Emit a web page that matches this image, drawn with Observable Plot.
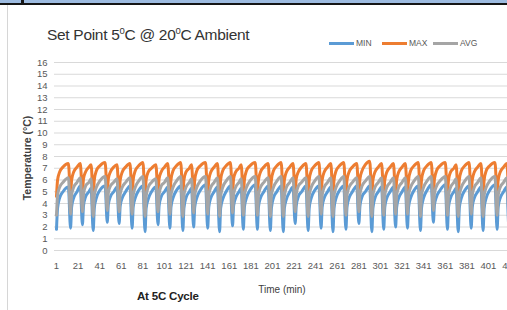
<!DOCTYPE html>
<html><head><meta charset="utf-8">
<script src="https://cdn.jsdelivr.net/npm/d3@7"></script>
<script src="https://cdn.jsdelivr.net/npm/@observablehq/plot@0.6"></script>
<style>
html,body{margin:0;padding:0;background:#fff;overflow:hidden}
#wrap{position:relative;width:507px;height:310px;overflow:hidden;font-family:"Liberation Sans",sans-serif;color:#404040}
.abs{position:absolute;white-space:nowrap}
.seg{position:absolute;height:3px}
.leg{position:absolute;font-size:8.5px;line-height:10px;color:#595959;font-family:"Liberation Sans",sans-serif}
#chart svg{max-width:none !important}
</style></head><body>
<div id="wrap">
  <div id="chart" class="abs" style="left:0;top:0;width:560px"></div>
  <div class="abs" style="left:0;top:0;width:507px;height:3px;background:#9dbbe0"></div>
  <div class="abs" style="left:0;top:3px;width:507px;height:2px;background:#151515"></div>
  <div class="abs" style="left:21px;top:0;width:2.5px;height:5px;background:#151515"></div>
  <div class="abs" style="left:7px;top:5px;width:1px;height:305px;background:#d6d6d6"></div>
  <div id="title" class="abs" style="left:47px;top:23px;font-size:15.5px;line-height:16px;letter-spacing:-0.3px;color:#333"></div>
  <div id="ytitle" class="abs" style="left:-43px;top:152px;width:140px;text-align:center;font-size:10.5px;line-height:12px;font-weight:bold;color:#404040;transform:rotate(-90deg)"></div>
  <div id="xtitle" class="abs" style="left:232px;top:284px;width:100px;text-align:center;font-size:10px;line-height:12px;color:#404040"></div>
  <div id="note" class="abs" style="left:137px;top:289px;font-size:11.5px;line-height:14px;font-weight:bold;color:#222;letter-spacing:-0.2px"></div>
  <div id="legend"></div>
</div>
<script>
// ---- data ----
const titleParts = ["Set Point 5", "0", "C @ 20", "0", "C Ambient"];
const yTitle = "Temperature (°C)";
const xTitle = "Time (min)";
const note = "At 5C Cycle";
const seriesNames = ["MIN", "MAX", "AVG"];
const seriesColors = ["#5B9BD5", "#ED7D31", "#A5A5A5"];
const yTicks = [0,1,2,3,4,5,6,7,8,9,10,11,12,13,14,15,16];
const xTicks = [1,21,41,61,81,101,121,141,161,181,201,221,241,261,281,301,321,341,361,381,401,421];

const time = [
1,2,4,7,12, 14,15,17,20,23, 25,26,28,31,33, 35,36,38,41,46,
48,49,51,54,57, 59,60,62,65,69, 71,72,74,77,81, 83,84,86,89,93,
95,96,98,101,104, 106,107,109,112,116, 118,119,121,124,126, 128,129,131,134,139,
141,142,144,147,150, 152,153,155,158,162, 164,165,167,170,172, 174,175,177,180,185,
187,188,190,193,197, 199,200,202,205,209, 211,212,214,217,220, 222,223,225,228,232,
234,235,237,240,244, 246,247,249,252,255, 257,258,260,263,267, 269,270,272,275,279,
281,282,284,287,291, 293,294,296,299,302, 304,305,307,310,313, 315,316,318,321,324,
326,327,329,332,336, 338,339,341,344,348, 350,351,353,356,361, 363,364,366,369,371,
373,374,376,379,383, 385,386,388,391,394, 396,397,399,402,407, 409,410,412,415,418,
420,421,423,426,430
];
const minV = [
1.8,3.6,4.5,5.0,5.4, 1.9,3.7,4.5,5.0,5.5, 2.2,3.8,4.6,5.0,5.3, 1.7,3.6,4.5,5.1,5.5,
2.4,3.9,4.6,5.0,5.4, 2.3,3.8,4.5,5.0,5.5, 1.9,3.7,4.5,5.1,5.5, 1.6,3.6,4.4,5.0,5.4,
2.2,3.8,4.6,5.0,5.4, 1.9,3.7,4.5,5.1,5.5, 1.7,3.6,4.5,5.0,5.3, 2.0,3.7,4.5,5.1,5.6,
1.9,3.7,4.5,5.0,5.4, 1.6,3.6,4.4,5.0,5.5, 2.1,3.8,4.5,5.0,5.3, 1.8,3.7,4.5,5.1,5.6,
1.8,3.7,4.5,5.0,5.5, 1.7,3.6,4.5,5.0,5.5, 1.6,3.6,4.4,5.0,5.4, 2.3,3.8,4.6,5.0,5.5,
1.7,3.6,4.5,5.1,5.5, 1.9,3.7,4.5,5.0,5.4, 1.6,3.6,4.5,5.1,5.5, 1.8,3.7,4.5,5.0,5.5,
2.3,3.8,4.6,5.0,5.5, 1.6,3.6,4.5,5.0,5.4, 1.8,3.7,4.5,5.0,5.4, 2.0,3.7,4.5,5.0,5.4,
1.9,3.7,4.5,5.1,5.5, 1.7,3.6,4.5,5.1,5.6, 2.4,3.9,4.6,5.1,5.6, 1.8,3.7,4.5,5.0,5.3,
1.6,3.6,4.5,5.1,5.5, 1.9,3.7,4.5,5.0,5.4, 1.7,3.6,4.5,5.1,5.6, 1.8,3.7,4.5,5.0,5.4,
1.9,3.7,4.5,5.0,5.4
];
const maxV = [
4.6,6.0,6.7,7.1,7.4, 4.8,6.0,6.7,7.1,7.4, 4.9,6.1,6.7,7.1,7.3, 4.7,6.0,6.8,7.2,7.5,
4.9,6.1,6.7,7.1,7.3, 4.8,6.0,6.7,7.1,7.4, 4.7,6.0,6.8,7.2,7.5, 4.7,6.0,6.7,7.0,7.3,
4.9,6.1,6.7,7.1,7.4, 4.8,6.0,6.8,7.2,7.5, 4.7,6.0,6.7,7.0,7.3, 4.8,6.0,6.8,7.2,7.5,
4.8,6.0,6.7,7.1,7.4, 4.7,6.0,6.8,7.2,7.5, 4.9,6.1,6.7,7.0,7.3, 4.7,6.0,6.8,7.2,7.5,
4.8,6.0,6.7,7.1,7.4, 4.7,6.0,6.8,7.2,7.5, 4.7,6.0,6.7,7.1,7.4, 4.9,6.1,6.7,7.1,7.4,
4.7,6.0,6.8,7.2,7.5, 4.8,6.0,6.7,7.1,7.4, 4.7,6.0,6.8,7.2,7.5, 4.8,6.0,6.7,7.1,7.4,
4.9,6.1,6.8,7.3,7.6, 4.7,6.0,6.7,7.1,7.4, 4.8,6.0,6.7,7.1,7.4, 4.8,6.0,6.7,7.1,7.4,
4.8,6.0,6.8,7.2,7.5, 4.7,6.0,6.8,7.2,7.5, 4.9,6.1,6.8,7.2,7.5, 4.8,6.0,6.7,7.0,7.3,
4.7,6.0,6.8,7.2,7.5, 4.8,6.0,6.7,7.1,7.4, 4.7,6.0,6.8,7.2,7.5, 4.8,6.0,6.7,7.1,7.4,
4.8,6.0,6.7,7.1,7.4
];
const avgV = [
3.0,4.7,5.4,5.8,6.2, 3.1,4.7,5.4,5.8,6.2, 3.3,4.8,5.5,5.8,6.1, 2.9,4.7,5.4,5.9,6.3,
3.4,4.9,5.5,5.8,6.1, 3.3,4.8,5.4,5.8,6.2, 3.1,4.7,5.4,5.9,6.3, 2.9,4.6,5.4,5.8,6.1,
3.3,4.8,5.5,5.8,6.2, 3.1,4.7,5.4,5.9,6.3, 2.9,4.7,5.4,5.8,6.1, 3.2,4.7,5.4,5.9,6.3,
3.1,4.7,5.4,5.8,6.2, 2.9,4.6,5.4,5.9,6.3, 3.2,4.8,5.4,5.8,6.1, 3.0,4.7,5.4,5.9,6.3,
3.0,4.7,5.4,5.8,6.2, 2.9,4.7,5.4,5.9,6.3, 2.9,4.6,5.4,5.8,6.2, 3.3,4.8,5.5,5.8,6.2,
2.9,4.7,5.4,5.9,6.3, 3.1,4.7,5.4,5.8,6.2, 2.9,4.7,5.4,5.9,6.3, 3.0,4.7,5.4,5.8,6.2,
3.3,4.8,5.5,5.9,6.3, 2.9,4.7,5.4,5.8,6.2, 3.0,4.7,5.4,5.8,6.2, 3.1,4.7,5.4,5.8,6.2,
3.1,4.7,5.4,5.9,6.3, 2.9,4.7,5.4,5.9,6.3, 3.4,4.9,5.5,5.9,6.3, 3.0,4.7,5.4,5.8,6.1,
2.9,4.7,5.4,5.9,6.3, 3.1,4.7,5.4,5.8,6.2, 2.9,4.7,5.4,5.9,6.3, 3.0,4.7,5.4,5.8,6.2,
3.1,4.7,5.4,5.8,6.2
];

// ---- build ----
const rows = time.map((t, i) => ({t, min: minV[i], max: maxV[i], avg: avgV[i]}));
const keys = ["min", "max", "avg"];

const chart = Plot.plot({
  width: 560,
  height: 282,
  marginTop: 62,
  marginBottom: 32,
  marginLeft: 54,
  marginRight: 0,
  style: {fontFamily: "'Liberation Sans', sans-serif", color: "#595959", background: "transparent", maxWidth: "none"},
  x: {domain: [-0.85, 467.7]},
  y: {domain: [0, 16]},
  marks: [
    Plot.ruleY(yTicks, {stroke: "#d9d9d9", strokeWidth: 1}),
    Plot.axisY({ticks: yTicks, tickSize: 0, tickPadding: 7, fontSize: 9.5, label: null}),
    Plot.axisX({ticks: xTicks, tickSize: 0, tickPadding: 12, fontSize: 9.5, label: null}),
    ...keys.map((k, i) => Plot.line(rows, {x: "t", y: k, stroke: seriesColors[i], strokeWidth: 3, curve: "monotone-x", strokeLinejoin: "round"}))
  ]
});
document.getElementById("chart").appendChild(chart);

document.getElementById("title").innerHTML =
  titleParts.map((p, i) => i % 2 ? `<span style="font-size:9.5px;vertical-align:6px">${p}</span>` : p).join("");
document.getElementById("ytitle").textContent = yTitle;
document.getElementById("xtitle").textContent = xTitle;
document.getElementById("note").textContent = note;

const legPos = [329, 382, 433];
const leg = document.getElementById("legend");
seriesNames.forEach((n, i) => {
  const s = document.createElement("div");
  s.className = "seg";
  s.style.cssText += `left:${legPos[i]}px;top:42px;width:25px;background:${seriesColors[i]}`;
  leg.appendChild(s);
  const t = document.createElement("div");
  t.className = "leg";
  t.style.left = (legPos[i] + 27) + "px";
  t.style.top = "38px";
  t.textContent = n;
  leg.appendChild(t);
});
</script>
</body></html>
